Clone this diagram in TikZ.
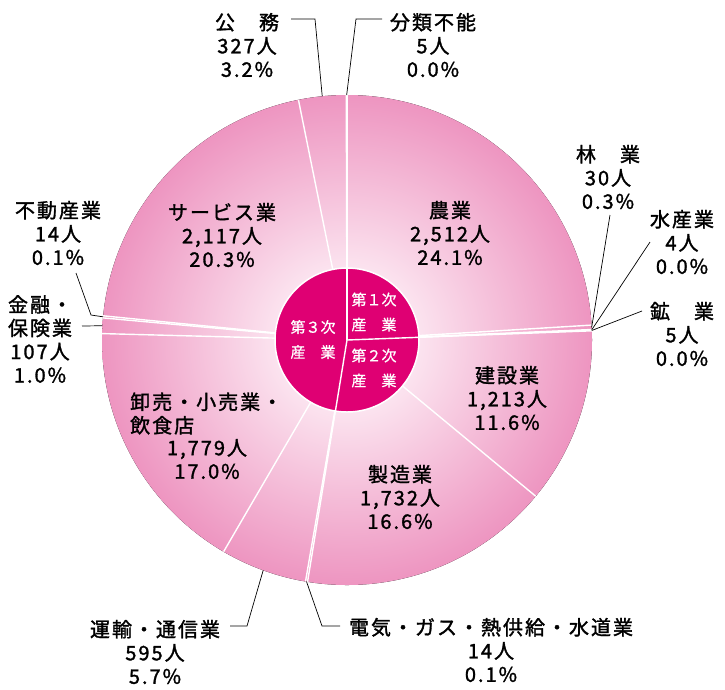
\documentclass[tikz,border=0pt]{standalone}
\usepackage{fontspec}
\newfontfamily\jp[LetterSpace=10,FakeBold=1.5]{Noto Sans CJK JP}
\newfontfamily\jpin[FakeBold=0.8]{Noto Sans CJK JP}
\definecolor{innermag}{RGB}{223,0,115}
\definecolor{pinkedge}{RGB}{232,118,174}
\definecolor{pinkcenter}{RGB}{254,242,248}
\pgfdeclareradialshading{pieshade}{\pgfpoint{0bp}{0bp}}{color(0bp)=(pinkcenter); color(4bp)=(pinkcenter); color(32bp)=(pinkedge); color(50bp)=(pinkedge)}
\tikzset{
  lbl/.style={font=\jp\fontsize{20}{23.5}\selectfont, align=center, inner sep=0pt, text=black},
  inlbl/.style={font=\jpin\fontsize{15}{25}\selectfont, align=center, inner sep=0pt, text=white},
  leader/.style={draw=black, line width=0.7pt},
  sepline/.style={draw=white, line width=1.4pt},
}
\begin{document}
\begin{tikzpicture}[x=1pt,y=-1pt]
\useasboundingbox (0,0) rectangle (725,689);
\coordinate (C) at (347,340);
% outer pie with gradient
\fill[shading=pieshade] (C) circle[radius=245pt];
\foreach \a in {90,3.49,2.46,2.32,2.15,-39.62,-99.27,-99.75,-120.24,-181.50,-185.18,-185.67,-258.57,-269.83}
  \draw[sepline] (C) -- ++(\a:245pt);
% inner pie
\fill[innermag] (C) circle[radius=72pt];
\draw[white, line width=1.5pt] (C) circle[radius=72pt];
\foreach \a in {90,2.15,-99.27}
  \draw[sepline] (C) -- ++(\a:72pt);
\node[inlbl] (p1) at (374,312) {第１次\\産　業};
\node[inlbl] (p2) at (374,368) {第２次\\産　業};
\node[inlbl] (p3) at (313,339.5) {第３次\\産　業};
% edge points for leaders
\path (C) ++(95.8:245pt) coordinate (eKou);
\path (C) ++(90.08:245pt) coordinate (eBun);
\path (C) ++(2.975:245pt) coordinate (eRin);
\path (C) ++(2.39:245pt) coordinate (eSui);
\path (C) ++(2.235:245pt) coordinate (eKo);
\path (C) ++(-185.43:245pt) coordinate (eFudo);
\path (C) ++(-183.34:245pt) coordinate (eKin);
\path (C) ++(-110:245pt) coordinate (eUnyu);
\path (C) ++(-99.51:245pt) coordinate (eDenki);
% labels
\node[lbl] (noka) at (450,233) {農業\\2,512人\\24.1\%};
\node[lbl] (svc) at (222,235) {サービス業\\2,117人\\20.3\%};
\node[lbl] (ken) at (507,398) {建設業\\1,213人\\11.6\%};
\node[lbl] (sei) at (400,497) {製造業\\1,732人\\16.6\%};
\node[lbl] (kou) at (247,45) {公　務\\327人\\3.2\%};
\node[lbl] (bun) at (433,45) {分類不能\\5人\\0.0\%};
\node[lbl] (rin) at (608,177) {林　業\\30人\\0.3\%};
\node[lbl] (sui) at (682,242) {水産業\\4人\\0.0\%};
\node[lbl] (kogyo) at (682,334) {鉱　業\\5人\\0.0\%};
\node[lbl] (fudo) at (58,233) {不動産業\\14人\\0.1\%};
\node[lbl] (kin) at (40,339) {金融・\\保険業\\107人\\1.0\%};
\node[lbl, align=left, anchor=west] (oroshi) at (130,413.5) {卸売・小売業・\\飲食店};
\node[lbl] (oroshiN) at (207,459) {1,779人\\17.0\%};
\node[lbl] (unyu) at (155,652) {運輸・通信業\\595人\\5.7\%};
\node[lbl] (denki) at (491,650) {電気・ガス・熱供給・水道業\\14人\\0.1\%};
% leader lines
\coordinate (kouA) at (291,19); \coordinate (kouB) at (315,19);
\draw[leader] (kouA) -- (kouB) -- (eKou);
\coordinate (bunA) at (382,19); \coordinate (bunB) at (356,19);
\draw[leader] (bunA) -- (bunB) -- (eBun);
\coordinate (rinA) at (610,215);
\draw[leader] (rinA) -- (eRin);
\coordinate (suiA) at (650,242);
\draw[leader] (suiA) -- (eSui);
\coordinate (koA) at (642,311);
\draw[leader] (koA) -- (eKo);
\coordinate (fudoA) at (76,273); \coordinate (fudoB) at (91,315);
\draw[leader] (fudoA) -- (fudoB) -- (eFudo);
\coordinate (kinA) at (82,326);
\draw[leader] (kinA) -- (eKin);
\coordinate (unyuA) at (230,626); \coordinate (unyuB) at (247,626);
\draw[leader] (unyuA) -- (unyuB) -- (eUnyu);
\coordinate (denA) at (340,626); \coordinate (denB) at (322,626);
\draw[leader] (denA) -- (denB) -- (eDenki);
\end{tikzpicture}
\end{document}
